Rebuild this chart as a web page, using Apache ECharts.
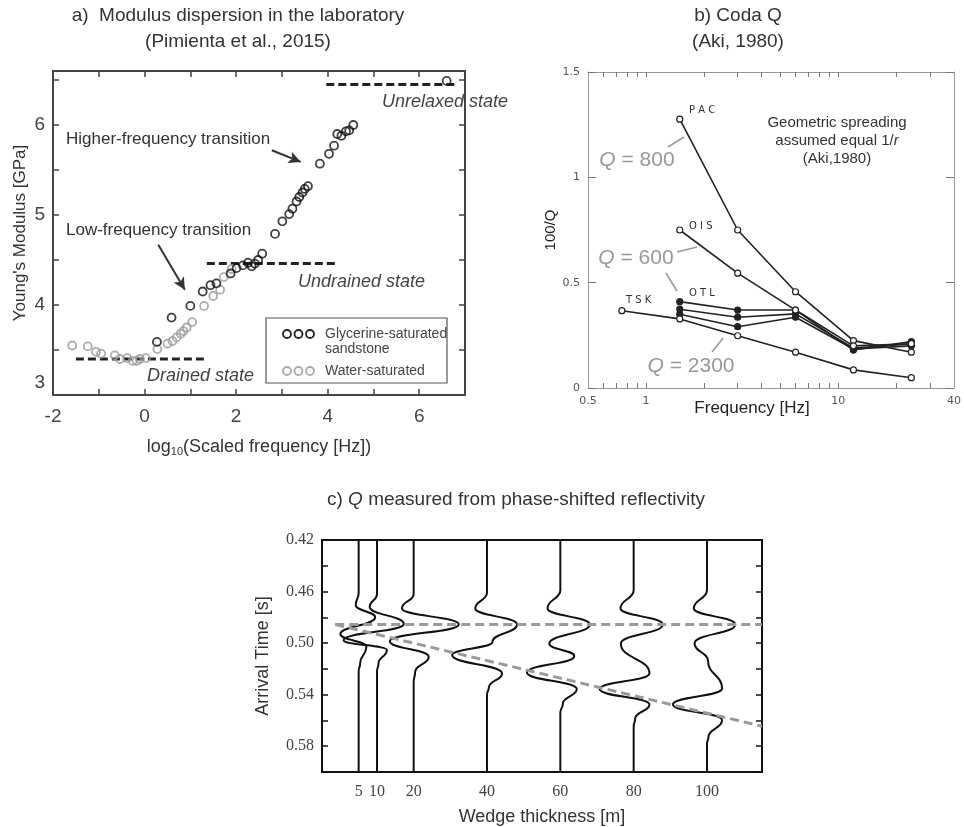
<!DOCTYPE html>
<html><head><meta charset="utf-8">
<script src="https://cdn.jsdelivr.net/npm/echarts@6/dist/echarts.min.js"></script>
<style>html,body{margin:0;padding:0;background:#fff}#c{width:964px;height:827px}</style>
</head><body><div id="c"></div>
<script>
// ---------- Panel a: modulus dispersion ----------
const glyX = [0.27,0.59,1.0,1.27,1.44,1.57,1.88,2.01,2.15,2.26,2.34,2.41,2.48,2.57,2.85,3.01,3.16,3.23,3.32,3.38,3.45,3.50,3.57,3.83,4.03,4.14,4.21,4.30,4.40,4.47,4.56,6.6];
const glyY = [3.59,3.86,3.99,4.15,4.22,4.24,4.35,4.41,4.44,4.47,4.43,4.46,4.50,4.57,4.79,4.93,5.01,5.07,5.15,5.20,5.25,5.29,5.32,5.57,5.68,5.77,5.90,5.88,5.93,5.94,6.00,6.49];
const watX = [-1.58,-1.24,-1.06,-0.95,-0.65,-0.54,-0.38,-0.26,-0.17,-0.10,0.03,0.28,0.50,0.61,0.70,0.79,0.85,0.92,1.04,1.30,1.50,1.65,1.73,1.90];
const watY = [3.55,3.54,3.48,3.46,3.44,3.40,3.41,3.38,3.38,3.40,3.41,3.51,3.57,3.60,3.64,3.68,3.71,3.75,3.81,3.99,4.10,4.17,4.31,4.40];
const aXLabels = [-2,0,2,4,6];
const aYLabels = [3,4,5,6];
const drainedState = [[-1.5,3.40],[1.33,3.40]];
const undrainedState = [[1.36,4.46],[4.21,4.46]];
const unrelaxedState = [[3.97,6.45],[6.81,6.45]];
const arrowHigh = [[2.78,5.72],[3.41,5.59]];
const arrowLow = [[0.30,4.67],[0.88,4.17]];

// ---------- Panel b: coda Q ----------
const freqHz = [0.75,1.5,3,6,12,24];
const qPAC  = [null,1.276,0.75,0.457,0.225,0.17];
const qOIS  = [null,0.75,0.545,0.37,0.20,0.21];
const qOTL1 = [null,0.41,0.37,0.37,0.18,0.22];
const qOTL2 = [null,0.374,0.336,0.352,0.19,0.209];
const qOTL3 = [null,0.35,0.291,0.336,0.185,0.20];
const qTSK  = [0.367,0.328,0.248,0.17,0.086,0.049];
const bXLabels = [0.5,1,10,40];
const bXTicks = [0.6,0.7,0.8,0.9,1,2,3,4,5,6,7,8,9,10,20,30];

// ---------- Panel c: wedge traces ----------
const wedge5   = [[5,0.42],[5,0.461],[4.2,0.4705],[9.5,0.48],[0.0,0.493],[7.1,0.5029],[5.4,0.5158],[5,0.522],[5,0.60]];
const wedge10  = [[10,0.42],[10,0.462],[8.0,0.4718],[17.3,0.4852],[0.9,0.4977],[12.7,0.5054],[10.4,0.5158],[10,0.522],[10,0.60]];
const wedge20  = [[20,0.42],[20,0.462],[16.8,0.473],[32.3,0.4855],[13.5,0.4985],[24.1,0.5106],[20.4,0.5225],[20,0.53],[20,0.60]];
const wedge40  = [[40,0.42],[40,0.461],[36.8,0.473],[48.2,0.4855],[41.5,0.499],[30.5,0.5093],[44.1,0.5235],[40.5,0.5345],[40,0.54],[40,0.60]];
const wedge60  = [[60,0.42],[60,0.459],[56.5,0.473],[68.0,0.4855],[57.0,0.5005],[63.8,0.5101],[50.9,0.5228],[64.5,0.5357],[60.7,0.5469],[60,0.554],[60,0.60]];
const wedge80  = [[80,0.42],[80,0.459],[76.4,0.473],[87.9,0.4855],[76.5,0.5005],[84.3,0.5235],[70.7,0.5357],[84.3,0.5476],[80.4,0.5585],[80,0.565],[80,0.60]];
const wedge100 = [[100,0.42],[100,0.459],[96.4,0.473],[107.7,0.4855],[96.6,0.5002],[100.3,0.514],[104.1,0.5352],[90.7,0.5476],[104.1,0.5598],[100.4,0.5728],[100,0.578],[100,0.60]];
const cXLabels = [5,10,20,40,60,80,100];
const cYLabels = [0.42,0.46,0.50,0.54,0.58];
const topReflector  = [[-1.4,0.4855],[115,0.4855]];
const baseReflector = [[-1.4,0.4855],[115,0.5645]];

const sans = 'Liberation Sans, Arial, sans-serif';
const serif = 'Liberation Serif, Times New Roman, serif';
const pair = (xs, ys) => xs.map((x, i) => [x, ys[i]]);

const chart = echarts.init(document.getElementById('c'), null, {renderer: 'canvas'});

const aAxisLine = {onZero: false, lineStyle: {color: '#444', width: 2}};
const aTick = {show: true, inside: true, length: 6, lineStyle: {color: '#444', width: 1.5}};
const bAxisLine = {onZero: false, lineStyle: {color: '#999', width: 1}};
const bTick = {show: true, inside: true, length: 5, lineStyle: {color: '#777', width: 1}};
const cAxisLine = {onZero: false, lineStyle: {color: '#111', width: 2}};
const cTick = {show: true, inside: true, length: 6, lineStyle: {color: '#111', width: 1.5}};

function bSeries(name, vals, filled) {
  return {
    type: 'line', name: name, xAxisIndex: 2, yAxisIndex: 2,
    data: freqHz.map((f, i) => [f, vals[i]]).filter(d => d[1] != null),
    symbol: 'circle', symbolSize: 6, showSymbol: true,
    lineStyle: {color: '#222', width: 1.6},
    itemStyle: {color: filled ? '#222' : '#fff', borderColor: '#222', borderWidth: 1.2},
    z: filled ? 3 : 4, animation: false
  };
}
function trace(name, d) {
  return {
    type: 'line', name: name, xAxisIndex: 4, yAxisIndex: 4, data: d,
    smooth: 0.5, smoothMonotone: 'y', showSymbol: false, symbol: 'none',
    lineStyle: {color: '#111', width: 2}, animation: false, z: 2
  };
}

const option = {
  backgroundColor: '#fff',
  animation: false,
  grid: [
    {left: 53, top: 71, width: 412, height: 324},
    {left: 588, top: 72, width: 370, height: 316},
    {left: 322, top: 540, width: 440, height: 232}
  ],
  xAxis: [
    {gridIndex: 0, type: 'value', min: -2, max: 7, interval: 1, position: 'bottom',
     axisLine: aAxisLine, axisTick: aTick, splitLine: {show: false},
     axisLabel: {customValues: aXLabels, color: '#444', fontSize: 19, fontFamily: sans, margin: 12},
     name: 'log{sub|10}(Scaled frequency [Hz])', nameLocation: 'middle', nameGap: 43,
     nameTextStyle: {color: '#333', fontSize: 18, fontFamily: sans,
       rich: {sub: {fontSize: 11, verticalAlign: 'bottom', padding: [8, 0, 0, 0], color: '#333', fontFamily: sans}}}},
    {gridIndex: 0, type: 'value', min: -2, max: 7, interval: 1, position: 'top',
     axisLine: aAxisLine, axisTick: aTick, axisLabel: {show: false}, splitLine: {show: false}},
    {gridIndex: 1, type: 'log', logBase: 10, min: 0.5, max: 40, position: 'bottom',
     axisLine: bAxisLine, axisTick: Object.assign({customValues: bXTicks}, bTick), splitLine: {show: false},
     minorTick: {show: false},
     axisLabel: {customValues: bXLabels, color: '#555', fontSize: 11, fontFamily: 'DejaVu Sans', margin: 8,
       formatter: v => String(v)}},
    {gridIndex: 1, type: 'log', logBase: 10, min: 0.5, max: 40, position: 'top',
     axisLine: bAxisLine, axisTick: Object.assign({customValues: bXTicks}, bTick), splitLine: {show: false},
     axisLabel: {show: false}},
    {gridIndex: 2, type: 'value', min: -5, max: 115, position: 'bottom',
     axisLine: cAxisLine, axisTick: {show: false}, splitLine: {show: false},
     axisLabel: {customValues: cXLabels, color: '#444', fontSize: 16, fontFamily: serif, margin: 12},
     name: 'Wedge thickness [m]', nameLocation: 'middle', nameGap: 36,
     nameTextStyle: {color: '#333', fontSize: 18, fontFamily: sans}},
    {gridIndex: 2, type: 'value', min: -5, max: 115, position: 'top',
     axisLine: cAxisLine, axisTick: {show: false}, axisLabel: {show: false}, splitLine: {show: false}}
  ],
  yAxis: [
    {gridIndex: 0, type: 'value', min: 3, max: 6.6, interval: 0.5, position: 'left',
     axisLine: aAxisLine, axisTick: aTick, splitLine: {show: false},
     axisLabel: {customValues: aYLabels, color: '#444', fontSize: 19, fontFamily: sans, margin: 8,
       formatter: v => (v === 3 ? '{lo|3}' : String(v)),
       rich: {lo: {padding: [0, 0, 24, 0], fontSize: 19, color: '#444', fontFamily: sans}}},
     name: "Young's Modulus [GPa]", nameLocation: 'middle', nameGap: 24, nameRotate: 90,
     nameTextStyle: {color: '#333', fontSize: 17, fontFamily: sans}},
    {gridIndex: 0, type: 'value', min: 3, max: 6.6, interval: 0.5, position: 'right',
     axisLine: aAxisLine, axisTick: aTick, axisLabel: {show: false}, splitLine: {show: false}},
    {gridIndex: 1, type: 'value', min: 0, max: 1.5, interval: 0.5, position: 'left',
     axisLine: bAxisLine, axisTick: Object.assign({}, bTick, {length: 8}), splitLine: {show: false},
     axisLabel: {color: '#555', fontSize: 11, fontFamily: 'DejaVu Sans', margin: 8, formatter: v => String(v)},
     name: '100/Q', nameLocation: 'middle', nameGap: 26, nameRotate: 90,
     nameTextStyle: {color: '#222', fontSize: 15, fontFamily: sans}},
    {gridIndex: 1, type: 'value', min: 0, max: 1.5, interval: 0.5, position: 'right',
     axisLine: bAxisLine, axisTick: Object.assign({}, bTick, {length: 8}), axisLabel: {show: false}, splitLine: {show: false}},
    {gridIndex: 2, type: 'value', min: 0.42, max: 0.60, interval: 0.02, inverse: true, position: 'left',
     axisLine: cAxisLine, axisTick: cTick, splitLine: {show: false},
     axisLabel: {customValues: cYLabels, color: '#444', fontSize: 16, fontFamily: serif, margin: 8,
       formatter: v => v.toFixed(2)},
     name: 'Arrival Time [s]', nameLocation: 'middle', nameGap: 50, nameRotate: 90,
     nameTextStyle: {color: '#333', fontSize: 18, fontFamily: sans}},
    {gridIndex: 2, type: 'value', min: 0.42, max: 0.60, interval: 0.02, inverse: true, position: 'right',
     axisLine: cAxisLine, axisTick: cTick, axisLabel: {show: false}, splitLine: {show: false}}
  ],
  series: [
    // panel a
    {type: 'line', name: 'drained', xAxisIndex: 0, yAxisIndex: 0, data: drainedState, showSymbol: false, symbol: 'none',
     lineStyle: {color: '#222', width: 3, type: [8, 4]}, z: 1},
    {type: 'line', name: 'undrained', xAxisIndex: 0, yAxisIndex: 0, data: undrainedState, showSymbol: false, symbol: 'none',
     lineStyle: {color: '#222', width: 3, type: [8, 4]}, z: 1},
    {type: 'line', name: 'unrelaxed', xAxisIndex: 0, yAxisIndex: 0, data: unrelaxedState, showSymbol: false, symbol: 'none',
     lineStyle: {color: '#222', width: 3, type: [8, 4]}, z: 1},
    {type: 'scatter', name: 'Water-saturated', xAxisIndex: 0, yAxisIndex: 0, data: pair(watX, watY),
     symbol: 'circle', symbolSize: 8, itemStyle: {color: 'rgba(0,0,0,0)', borderColor: '#9a9a9a', borderWidth: 1.8}, z: 3},
    {type: 'scatter', name: 'Glycerine-saturated sandstone', xAxisIndex: 0, yAxisIndex: 0, data: pair(glyX, glyY),
     symbol: 'circle', symbolSize: 8, itemStyle: {color: 'rgba(0,0,0,0)', borderColor: '#111', borderWidth: 1.8}, z: 4,
     markLine: {silent: true, symbol: ['none', 'arrow'], symbolSize: [9, 12], animation: false,
       lineStyle: {color: '#333', width: 2, type: 'solid'}, label: {show: false},
       data: [[{coord: arrowHigh[0]}, {coord: arrowHigh[1]}], [{coord: arrowLow[0]}, {coord: arrowLow[1]}]]}},
    // panel b
    bSeries('PAC', qPAC, false),
    bSeries('OIS', qOIS, false),
    bSeries('OTL1', qOTL1, true),
    bSeries('OTL2', qOTL2, true),
    bSeries('OTL3', qOTL3, true),
    bSeries('TSK', qTSK, false),
    // panel c
    trace('5', wedge5), trace('10', wedge10), trace('20', wedge20), trace('40', wedge40),
    trace('60', wedge60), trace('80', wedge80), trace('100', wedge100),
    {type: 'line', name: 'top', xAxisIndex: 4, yAxisIndex: 4, data: topReflector, showSymbol: false, symbol: 'none',
     lineStyle: {color: '#9a9a9a', width: 3, type: [9, 5]}, z: 5},
    {type: 'line', name: 'base', xAxisIndex: 4, yAxisIndex: 4, data: baseReflector, showSymbol: false, symbol: 'none',
     lineStyle: {color: '#9a9a9a', width: 3, type: [9, 5]}, z: 5}
  ],
  graphic: [
    // panel a texts
    {type: 'text', x: 238, y: 16, style: {text: 'a)  Modulus dispersion in the laboratory', font: '19px ' + sans, fill: '#333', textAlign: 'center', textVerticalAlign: 'middle'}},
    {type: 'text', x: 238, y: 42, style: {text: '(Pimienta et al., 2015)', font: '19px ' + sans, fill: '#333', textAlign: 'center', textVerticalAlign: 'middle'}},
    {type: 'text', x: 66, y: 139, style: {text: 'Higher-frequency transition', font: '17px ' + sans, fill: '#333', textAlign: 'left', textVerticalAlign: 'middle'}},
    {type: 'text', x: 66, y: 230, style: {text: 'Low-frequency transition', font: '17px ' + sans, fill: '#333', textAlign: 'left', textVerticalAlign: 'middle'}},
    {type: 'text', x: 382, y: 102, style: {text: 'Unrelaxed state', font: 'italic 18px ' + sans, fill: '#444', textAlign: 'left', textVerticalAlign: 'middle'}},
    {type: 'text', x: 298, y: 282, style: {text: 'Undrained state', font: 'italic 18px ' + sans, fill: '#444', textAlign: 'left', textVerticalAlign: 'middle'}},
    {type: 'text', x: 147, y: 376, style: {text: 'Drained state', font: 'italic 18px ' + sans, fill: '#444', textAlign: 'left', textVerticalAlign: 'middle'}},
    // legend a
    {type: 'rect', shape: {x: 266, y: 318, width: 181, height: 65}, style: {fill: '#fff', stroke: '#555', lineWidth: 1.2}, z: 10},
    {type: 'circle', shape: {cx: 287, cy: 334, r: 4}, style: {fill: 'none', stroke: '#222', lineWidth: 1.8}, z: 11},
    {type: 'circle', shape: {cx: 298.5, cy: 334, r: 4}, style: {fill: 'none', stroke: '#222', lineWidth: 1.8}, z: 11},
    {type: 'circle', shape: {cx: 310, cy: 334, r: 4}, style: {fill: 'none', stroke: '#222', lineWidth: 1.8}, z: 11},
    {type: 'circle', shape: {cx: 287, cy: 371, r: 4}, style: {fill: 'none', stroke: '#aaa', lineWidth: 1.8}, z: 11},
    {type: 'circle', shape: {cx: 298.5, cy: 371, r: 4}, style: {fill: 'none', stroke: '#aaa', lineWidth: 1.8}, z: 11},
    {type: 'circle', shape: {cx: 310, cy: 371, r: 4}, style: {fill: 'none', stroke: '#aaa', lineWidth: 1.8}, z: 11},
    {type: 'text', x: 325, y: 334, z: 11, style: {text: 'Glycerine-saturated', font: '14px ' + sans, fill: '#444', textVerticalAlign: 'middle'}},
    {type: 'text', x: 325, y: 349, z: 11, style: {text: 'sandstone', font: '14px ' + sans, fill: '#444', textVerticalAlign: 'middle'}},
    {type: 'text', x: 325, y: 371, z: 11, style: {text: 'Water-saturated', font: '14px ' + sans, fill: '#444', textVerticalAlign: 'middle'}},
    // panel b texts
    {type: 'text', x: 738, y: 16, style: {text: 'b) Coda Q', font: '19px ' + sans, fill: '#333', textAlign: 'center', textVerticalAlign: 'middle'}},
    {type: 'text', x: 738, y: 42, style: {text: '(Aki, 1980)', font: '19px ' + sans, fill: '#333', textAlign: 'center', textVerticalAlign: 'middle'}},
    {type: 'text', x: 837, y: 123, style: {text: 'Geometric spreading', font: '15px ' + sans, fill: '#333', textAlign: 'center', textVerticalAlign: 'middle'}},
    {type: 'text', x: 837, y: 141, style: {text: 'assumed equal 1/{i|r}', font: '15px ' + sans, fill: '#333', textAlign: 'center', textVerticalAlign: 'middle',
      rich: {i: {font: 'italic 15px ' + sans, fill: '#333'}}}},
    {type: 'text', x: 837, y: 159, style: {text: '(Aki,1980)', font: '15px ' + sans, fill: '#333', textAlign: 'center', textVerticalAlign: 'middle'}},
    {type: 'text', x: 752, y: 408, style: {text: 'Frequency [Hz]', font: '17px ' + sans, fill: '#222', textAlign: 'center', textVerticalAlign: 'middle'}},
    {type: 'text', x: 689, y: 110, style: {text: 'P A C', font: '10px DejaVu Sans', fill: '#333', textVerticalAlign: 'middle'}},
    {type: 'text', x: 689, y: 226, style: {text: 'O I S', font: '10px DejaVu Sans', fill: '#333', textVerticalAlign: 'middle'}},
    {type: 'text', x: 689, y: 293, style: {text: 'O T L', font: '10px DejaVu Sans', fill: '#333', textVerticalAlign: 'middle'}},
    {type: 'text', x: 626, y: 300, style: {text: 'T S K', font: '10px DejaVu Sans', fill: '#333', textVerticalAlign: 'middle'}},
    {type: 'text', x: 637, y: 160, style: {text: '{i|Q} = 800', font: '21px ' + sans, fill: '#999', textAlign: 'center', textVerticalAlign: 'middle',
      rich: {i: {font: 'italic 21px ' + sans, fill: '#999'}}}},
    {type: 'text', x: 636, y: 258, style: {text: '{i|Q} = 600', font: '21px ' + sans, fill: '#999', textAlign: 'center', textVerticalAlign: 'middle',
      rich: {i: {font: 'italic 21px ' + sans, fill: '#999'}}}},
    {type: 'text', x: 691, y: 366, style: {text: '{i|Q} = 2300', font: '21px ' + sans, fill: '#999', textAlign: 'center', textVerticalAlign: 'middle',
      rich: {i: {font: 'italic 21px ' + sans, fill: '#999'}}}},
    {type: 'line', shape: {x1: 668, y1: 147, x2: 684, y2: 137}, style: {stroke: '#999', lineWidth: 1.5}},
    {type: 'line', shape: {x1: 677, y1: 252, x2: 697, y2: 247}, style: {stroke: '#999', lineWidth: 1.5}},
    {type: 'line', shape: {x1: 666, y1: 273, x2: 677, y2: 291}, style: {stroke: '#999', lineWidth: 1.5}},
    {type: 'line', shape: {x1: 712, y1: 352, x2: 723, y2: 338}, style: {stroke: '#999', lineWidth: 1.5}},
    // panel c title
    {type: 'text', x: 516, y: 500, style: {text: 'c) {i|Q} measured from phase-shifted reflectivity', font: '19px ' + sans, fill: '#333', textAlign: 'center', textVerticalAlign: 'middle',
      rich: {i: {font: 'italic 19px ' + sans, fill: '#333'}}}}
  ]
};
chart.setOption(option);
</script>
</body></html>
